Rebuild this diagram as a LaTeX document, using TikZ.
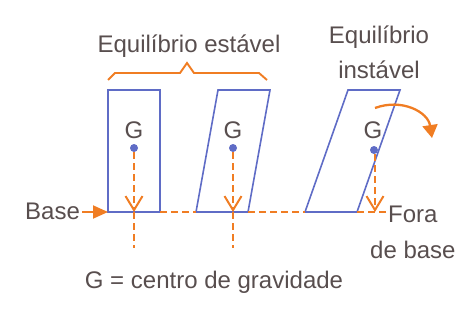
\documentclass[tikz,border=0pt]{standalone}
\usepackage{fontspec}
\setmainfont{Liberation Sans}
\usetikzlibrary{arrows.meta}
\definecolor{bl}{RGB}{95,108,198}
\definecolor{orng}{RGB}{240,125,35}
\definecolor{txt}{RGB}{88,78,78}
\begin{document}
\begin{tikzpicture}[x=1pt,y=-1pt,
 lbl/.style={text=txt,font=\fontsize{24}{27}\selectfont,inner sep=0pt},
 body/.style={draw=bl,line width=1.6pt,line join=miter},
 gdot/.style={circle,fill=bl,minimum size=8pt,inner sep=0pt},
 fall/.style={draw=orng,line width=1.9pt,dash pattern=on 7pt off 4pt},
 barb/.style={-{Straight Barb[length=14pt,width=17pt,line width=2pt]}},
 orline/.style={draw=orng,line width=1.9pt}
]
\useasboundingbox (0,0) rectangle (455,324);
% bodies
\coordinate (a1) at (108,90); \coordinate (a2) at (160,90);
\coordinate (a3) at (160,212); \coordinate (a4) at (108,212);
\coordinate (b1) at (218,90); \coordinate (b2) at (270,90);
\coordinate (b3) at (248,212); \coordinate (b4) at (196,212);
\coordinate (c1) at (348,90); \coordinate (c2) at (400,90);
\coordinate (c3) at (357,212); \coordinate (c4) at (305,212);
\draw[body] (a1) -- (a2) -- (a3) -- (a4) -- cycle;
\draw[body] (b1) -- (b2) -- (b3) -- (b4) -- cycle;
\draw[body] (c1) -- (c2) -- (c3) -- (c4) -- cycle;
% base dashes
\coordinate (e3) at (388,212);
\draw[fall] (a3) -- (b4);
\draw[fall] (b3) -- (c4);
\draw[fall] (c3) -- (e3);
% G labels and dots
\node[lbl,anchor=base] (g1) at (134,138) {G};
\node[lbl,anchor=base] (g2) at (233,138) {G};
\node[lbl,anchor=base] (g3) at (373,138) {G};
\node[gdot] (d1) at (134,148) {};
\node[gdot] (d2) at (233,148) {};
\node[gdot] (d3) at (374,150) {};
\coordinate (p1) at (134,212); \coordinate (q1) at (134,248);
\coordinate (p2) at (233,212); \coordinate (q2) at (233,248);
\coordinate (p3) at (375,212);
\draw[fall,barb] (d1) -- (p1);
\draw[fall] (p1) -- (q1);
\draw[fall,barb] (d2) -- (p2);
\draw[fall] (p2) -- (q2);
\draw[fall,barb] (d3.south -| p3) -- (p3);
% base label
\node[lbl,anchor=base west] (base) at (25,219) {Base};
\draw[orline,-{Triangle[length=15pt,width=13pt]}] ([xshift=2pt]base.east |- a4) -- (a4);
% titles
\node[lbl,anchor=base] (stable) at (189,52) {Equilíbrio estável};
\node[lbl,anchor=base] (unst1) at (379,43) {Equilíbrio};
\node[lbl,anchor=base] (unst2) at (379,78) {instável};
\draw[orline] (108,80) -- (115,73) -- (180,73) -- (187,63) -- (194,73) -- (259,73) -- (267,80);
% tipping arrow
\coordinate (t0) at (375,108); \coordinate (t1) at (432,138);
\draw[orline,line width=2.3pt,-{Triangle[length=13pt,width=15pt]}] (t0) .. controls (402,98) and (428,112) .. (t1);
% lower labels
\node[lbl,anchor=base west] (fora) at (388,222) {Fora};
\node[lbl,anchor=base west] (debase) at (370,258) {de base};
\node[lbl,anchor=base] (gdef) at (214,288) {G = centro de gravidade};
\end{tikzpicture}
\end{document}
